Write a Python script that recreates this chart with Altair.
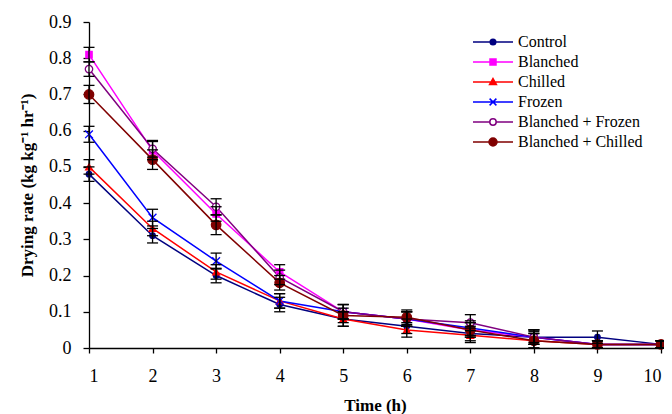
import altair as alt
import pandas as pd

time_h = [1, 2, 3, 4, 5, 6, 7, 8, 9, 10]
series_names = ["Control", "Blanched", "Chilled", "Frozen", "Blanched + Frozen", "Blanched + Chilled"]

control = [0.48, 0.31, 0.20, 0.12, 0.08, 0.06, 0.04, 0.03, 0.03, 0.01]
blanched = [0.81, 0.545, 0.37, 0.21, 0.10, 0.08, 0.05, 0.03, 0.01, 0.01]
chilled = [0.50, 0.33, 0.21, 0.13, 0.08, 0.05, 0.035, 0.02, 0.01, 0.01]
frozen = [0.59, 0.36, 0.24, 0.13, 0.10, 0.08, 0.055, 0.03, 0.01, 0.01]
blanched_frozen = [0.77, 0.55, 0.39, 0.195, 0.10, 0.08, 0.07, 0.03, 0.01, 0.01]
blanched_chilled = [0.70, 0.52, 0.34, 0.18, 0.09, 0.085, 0.05, 0.02, 0.01, 0.01]

err_control = [0.02, 0.02, 0.02, 0.02, 0.02, 0.02, 0.02, 0.02, 0.017, 0.01]
err_blanched = [0.02, 0.025, 0.02, 0.02, 0.02, 0.02, 0.02, 0.015, 0.01, 0.01]
err_chilled = [0.02, 0.02, 0.02, 0.02, 0.02, 0.02, 0.02, 0.02, 0.01, 0.01]
err_frozen = [0.022, 0.023, 0.022, 0.02, 0.02, 0.02, 0.02, 0.02, 0.01, 0.01]
err_blanched_frozen = [0.02, 0.023, 0.022, 0.02, 0.02, 0.02, 0.022, 0.02, 0.01, 0.01]
err_blanched_chilled = [0.025, 0.027, 0.027, 0.02, 0.02, 0.02, 0.02, 0.02, 0.01, 0.01]

y_ticks = [0, 0.1, 0.2, 0.3, 0.4, 0.5, 0.6, 0.7, 0.8, 0.9]

# styles
colors = ["#000080", "#FF00FF", "#FF0000", "#0000FF", "#800080", "#800000"]
fills = ["#000080", "#FF00FF", "#FF0000", "#0000FF", "#FFFFFF", "#800000"]
plot_shapes = [
    "circle",
    "square",
    "triangle-up",
    "M-1,-1L1,1M-1,1L1,-1",
    "circle",
    "circle",
]
plot_sizes = [30, 40, 45, 60, 55, 90]
legend_paths = [
    "M-5,0H-0.7M0.7,0H5M0.7,0A0.7,0.7 0 1,1 -0.7,0A0.7,0.7 0 1,1 0.7,0Z",
    "M-5,0H-0.75M0.75,0H5M-0.75,-0.75H0.75V0.75H-0.75Z",
    "M-5,0H5M0,-0.85L0.85,0.6H-0.85Z",
    "M-5,0H5M-0.85,-0.85L0.85,0.85M-0.85,0.85L0.85,-0.85",
    "M-5,0H-0.8M0.8,0H5M0.8,0A0.8,0.8 0 1,1 -0.8,0A0.8,0.8 0 1,1 0.8,0Z",
    "M-5,0H-1M1,0H5M1,0A1,1 0 1,1 -1,0A1,1 0 1,1 1,0Z",
]

all_vals = [control, blanched, chilled, frozen, blanched_frozen, blanched_chilled]
all_errs = [err_control, err_blanched, err_chilled, err_frozen, err_blanched_frozen, err_blanched_chilled]

rows = []
for name, vals, errs in zip(series_names, all_vals, all_errs):
    for t, v, e in zip(time_h, vals, errs):
        rows.append({"series": name, "time": t, "rate": v, "lo": max(v - e, 0), "hi": v + e})
df = pd.DataFrame(rows)

FONT = "Liberation Serif"

x_scale = alt.Scale(domain=[1, 10], nice=False, zero=False)
y_scale = alt.Scale(domain=[0, 0.9], nice=False)
x_axis = alt.Axis(
    title="Time (h)",
    values=time_h,
    format="d",
    tickSize=5,
    labelPadding=14,
    titlePadding=12,
    grid=False,
    labelOverlap=False,
)
y_axis = alt.Axis(
    title="Drying rate (kg kg\u207b\u00b9 hr\u207b\u00b9)",
    values=y_ticks,
    format=".1~f",
    tickSize=6,
    labelPadding=12,
    titlePadding=12,
    grid=False,
    labelOverlap=False,
)


def X():
    return alt.X("time:Q", scale=x_scale, axis=x_axis)


def Y(field):
    return alt.Y(field + ":Q", scale=y_scale, axis=y_axis)


base = alt.Chart(df)

line_layers = []
point_layers = []
for i, name in enumerate(series_names):
    sub = base.transform_filter(alt.datum.series == name)
    line_layers.append(
        sub.mark_line(stroke=colors[i], strokeWidth=1.5).encode(x=X(), y=Y("rate"))
    )
    point_layers.append(
        sub.mark_point(
            shape=plot_shapes[i],
            size=plot_sizes[i],
            filled=True,
            fill=fills[i],
            stroke=colors[i],
            strokeWidth=1.3,
            opacity=1,
        ).encode(x=X(), y=Y("rate"))
    )

err_rules = base.mark_rule(color="black", strokeWidth=1.3).encode(
    x=X(), y=Y("lo"), y2="hi:Q"
)
cap_lo = base.mark_point(
    shape="M-1,0H1", size=121, stroke="black", strokeWidth=1.3, filled=False, opacity=1
).encode(x=X(), y=Y("lo"))
cap_hi = base.mark_point(
    shape="M-1,0H1", size=121, stroke="black", strokeWidth=1.3, filled=False, opacity=1
).encode(x=X(), y=Y("hi"))

legend_layer = (
    base.transform_filter("false")
    .mark_point(filled=True, opacity=1, strokeWidth=1.5)
    .encode(
        x=X(),
        y=Y("rate"),
        shape=alt.Shape(
            "series:N",
            scale=alt.Scale(domain=series_names, range=legend_paths),
            title=None,
        ),
        fill=alt.Fill(
            "series:N",
            scale=alt.Scale(domain=series_names, range=fills),
            title=None,
        ),
        stroke=alt.Stroke(
            "series:N",
            scale=alt.Scale(domain=series_names, range=colors),
            title=None,
        ),
    )
)

chart = (
    alt.layer(*line_layers, *point_layers, err_rules, cap_lo, cap_hi, legend_layer)
    .properties(
        width=572,
        height=326,
        autosize=alt.AutoSizeParams(type="none"),
        padding={"left": 81, "top": 14, "right": 3, "bottom": 66},
    )
    .configure_view(stroke=None)
    .configure_axis(
        labelFont=FONT,
        labelFontSize=18,
        labelColor="black",
        titleFont=FONT,
        titleFontSize=17,
        titleFontWeight="bold",
        titleColor="black",
        domainColor="black",
        tickColor="black",
        domainWidth=1.3,
        tickWidth=1.3,
    )
    .configure_legend(
        orient="none",
        legendX=396,
        legendY=12,
        labelFont=FONT,
        labelFontSize=16,
        labelColor="black",
        symbolSize=64,
        symbolStrokeWidth=1.5,
        labelOffset=17,
        rowPadding=4,
        padding=0,
    )
)

chart.save("out.html", embed_options={"renderer": "svg", "actions": False})
